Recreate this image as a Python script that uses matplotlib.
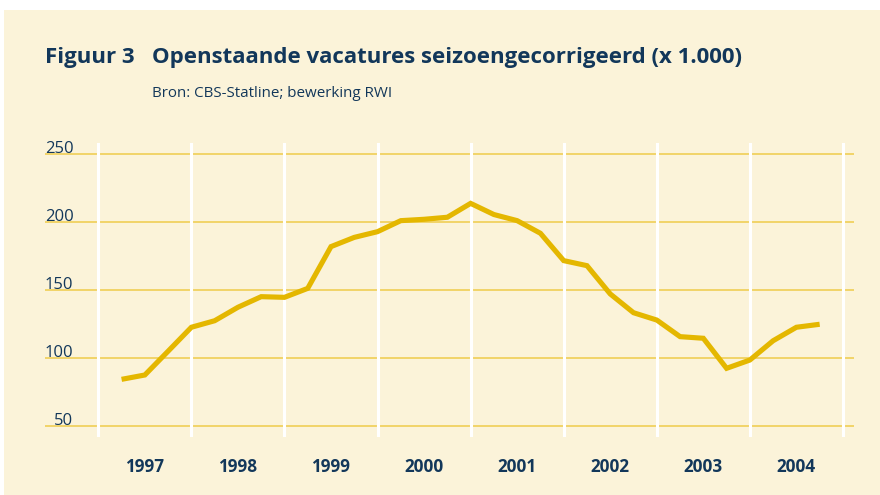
import matplotlib
matplotlib.use("Agg")
import matplotlib.pyplot as plt
import matplotlib.transforms as mtransforms
from matplotlib.patches import Rectangle

years = ["1997", "1998", "1999", "2000", "2001", "2002", "2003", "2004"]
yticks = [50, 100, 150, 200, 250]
# quarterly values (x 1.000), 1997 Q1 .. 2004 Q3
vacatures = [84.3, 87.5, 105.0, 122.6, 127.4, 137.3, 145.1, 144.6,
             151.2, 181.9, 188.7, 192.9, 201.0, 202.0, 203.5, 213.7,
             205.5, 201.0, 191.7, 171.6, 167.9, 147.1, 133.3, 127.9,
             115.7, 114.5, 92.4, 98.5, 112.7, 122.6, 124.8]

BG = "#FBF3D9"
NAVY = "#12375A"
LINE = "#E4B700"
GRID = "#EFCB4A"

plt.rcParams['font.family'] = ['Open Sans', 'DejaVu Sans']

W, H = 880, 495
fig = plt.figure(figsize=(W / 100, H / 100), dpi=100)
fig.patch.set_facecolor("white")
fig.add_artist(Rectangle((4 / W, 0), 1, 1 - 10 / H, transform=fig.transFigure,
                         facecolor=BG, edgecolor="none", zorder=-10))

def fx(px):
    return px / W

def fy(py):
    return 1 - py / H

ax = fig.add_axes([fx(45), fy(437), (854 - 45) / W, (437 - 143) / H])
ax.set_facecolor("none")
x0 = 98.3
step = 23.27
ax.set_xlim((45 - x0) / step, (854 - x0) / step)
ax.set_ylim(41.9, 258.1)
for s in ax.spines.values():
    s.set_visible(False)
ax.set_xticks([])
ax.set_yticks([])

for v in yticks:
    ax.axhline(v, color=GRID, lw=1.1, zorder=1)
for i in range(len(years) + 1):
    ax.axvline(i * 4, color="white", lw=2.2, zorder=2)

xs = list(range(1, len(vacatures) + 1))
ax.plot(xs, vacatures, color=LINE, lw=3.7, solid_joinstyle="miter",
        solid_capstyle="butt", zorder=3)

# y tick labels sitting on the gridlines
for v in yticks:
    ax.text((73.5 - x0) / step, v + 0.6, str(v), ha="right", va="baseline",
            fontsize=12, color=NAVY, zorder=4)

# year labels
blend = mtransforms.blended_transform_factory(ax.transData, fig.transFigure)
for i, y in enumerate(years):
    ax.text(i * 4 + 2, fy(467), y, transform=blend, ha="center",
            va="center", fontsize=12.3, fontweight="bold", color=NAVY)

fig.text(fx(45), fy(63), "Figuur 3", fontsize=16, fontweight="bold",
         color=NAVY, ha="left", va="baseline")
fig.text(fx(152), fy(63), "Openstaande vacatures seizoengecorrigeerd (x 1.000)",
         fontsize=16, fontweight="bold", color=NAVY, ha="left", va="baseline")
fig.text(fx(152), fy(97), "Bron: CBS-Statline; bewerking RWI", fontsize=10.9,
         color=NAVY, ha="left", va="baseline")

fig.savefig("out.png", dpi=100, facecolor=fig.get_facecolor())
